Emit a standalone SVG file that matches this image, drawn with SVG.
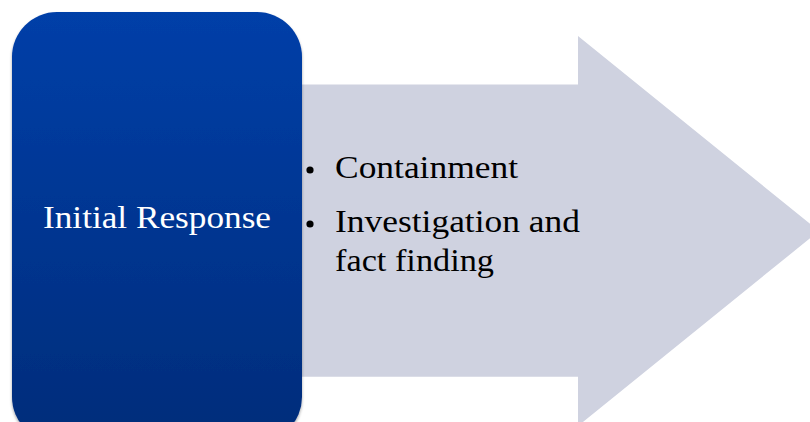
<svg xmlns="http://www.w3.org/2000/svg" width="810" height="422" viewBox="0 0 810 422">
  <defs>
    <linearGradient id="blueGrad" x1="0" y1="0" x2="0" y2="1">
      <stop offset="0" stop-color="#003FA8"/>
      <stop offset="1" stop-color="#062C7A"/>
    </linearGradient>
    <filter id="shadow" x="-10%" y="-10%" width="120%" height="120%">
      <feGaussianBlur in="SourceAlpha" stdDeviation="1.5"/>
      <feOffset dx="0" dy="1.5" result="b"/>
      <feComponentTransfer><feFuncA type="linear" slope="0.35"/></feComponentTransfer>
      <feMerge><feMergeNode/><feMergeNode in="SourceGraphic"/></feMerge>
    </filter>
    <style>
      .serif { font-family: "Liberation Serif", "DejaVu Serif", serif; }
      .label { fill: #FFFFFF; font-size: 31px; }
      .item { fill: #000000; font-size: 31px; }
    </style>
  </defs>
  <rect width="810" height="422" fill="#FFFFFF"/>
  <g id="arrow">
    <polygon points="290,84.5 578,84.5 578,36 819,231 578,426 578,376.7 290,376.7" fill="#CFD2E0"/>
    <g id="bullets" class="serif item">
      <circle cx="310" cy="170" r="3.6" fill="#000"/>
      <text x="335" y="178.3" textLength="183" lengthAdjust="spacingAndGlyphs">Containment</text>
      <circle cx="310" cy="224" r="3.6" fill="#000"/>
      <text x="335" y="232.3" textLength="245" lengthAdjust="spacingAndGlyphs">Investigation and</text>
      <text x="335" y="271" textLength="159" lengthAdjust="spacingAndGlyphs">fact finding</text>
    </g>
  </g>
  <g id="initial-response">
    <rect x="12" y="12" width="290" height="430" rx="45" ry="45" fill="url(#blueGrad)" filter="url(#shadow)"/>
    <text class="serif label" x="43" y="227.7" textLength="228" lengthAdjust="spacingAndGlyphs">Initial Response</text>
  </g>
  <g id="connectors"/>
</svg>
